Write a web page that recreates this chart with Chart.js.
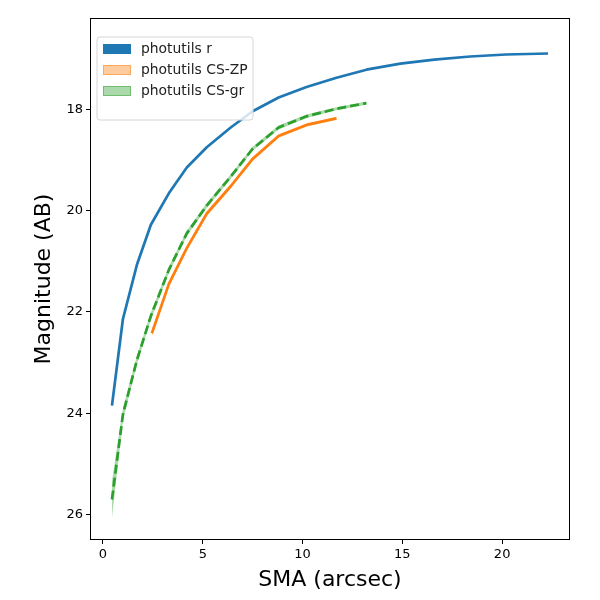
<!DOCTYPE html>
<html>
<head>
<meta charset="utf-8">
<script src="https://cdn.jsdelivr.net/npm/chart.js@4.4.1/dist/chart.umd.min.js"></script>
<style>
  html, body { margin: 0; padding: 0; background: #fff; }
  #wrap { width: 600px; height: 600px; }
</style>
</head>
<body>
<div id="wrap"><canvas id="c" width="600" height="600"></canvas></div>
<script>
// ---- data ----
const smaR   = [0.45, 1.0, 1.7, 2.4, 3.3, 4.2, 5.2, 6.4, 7.5, 8.8, 10.2, 11.7, 13.2, 14.9, 16.6, 18.4, 20.2, 22.3];
const magR   = [23.85, 22.14, 21.07, 20.28, 19.66, 19.15, 18.75, 18.36, 18.04, 17.77, 17.56, 17.38, 17.22, 17.10, 17.02, 16.96, 16.92, 16.90];

const smaZP  = [2.45, 3.3, 4.2, 5.2, 6.4, 7.5, 8.8, 10.2, 11.7];
const magZP  = [22.42, 21.45, 20.74, 20.06, 19.52, 18.98, 18.53, 18.31, 18.18];
const errZP  = [0.07, 0.06, 0.05, 0.05, 0.04, 0.04, 0.035, 0.03, 0.03];

const smaGR  = [0.45, 1.0, 1.7, 2.4, 3.3, 4.2, 5.2, 6.4, 7.5, 8.8, 10.2, 11.7, 13.2];
const magGR  = [25.70, 24.02, 22.95, 22.08, 21.17, 20.45, 19.90, 19.33, 18.78, 18.36, 18.14, 17.99, 17.88];
const errGR  = [0.36, 0.12, 0.08, 0.07, 0.06, 0.05, 0.05, 0.04, 0.04, 0.04, 0.035, 0.03, 0.03];

const xTicks = [0, 5, 10, 15, 20];
const yTicks = [18, 20, 22, 24, 26];
const labels = ['photutils r', 'photutils CS-ZP', 'photutils CS-gr'];

// ---- helpers ----
const pts = (xs, ys) => xs.map((x, i) => ({x: x, y: ys[i]}));
const ptsOff = (xs, ys, es, s) => xs.map((x, i) => ({x: x, y: ys[i] + s * es[i]}));

const BLUE = '#1f77b4', ORANGE = '#ff7f0e', GREEN = '#2ca02c';
const ORANGE_A = 'rgba(255,127,14,0.4)', GREEN_A = 'rgba(44,160,44,0.4)';

const datasets = [
  // bands (drawn underneath)
  {data: ptsOff(smaZP, magZP, errZP, -1), borderWidth: 0, pointRadius: 0, fill: false, order: 10, backgroundColor: ORANGE_A, borderColor: 'transparent'},
  {data: ptsOff(smaZP, magZP, errZP, 1), borderWidth: 0, pointRadius: 0, fill: '-1', order: 10, backgroundColor: ORANGE_A, borderColor: 'transparent'},
  {data: ptsOff(smaGR, magGR, errGR, -1), borderWidth: 0, pointRadius: 0, fill: false, order: 10, backgroundColor: GREEN_A, borderColor: 'transparent'},
  {data: ptsOff(smaGR, magGR, errGR, 1), borderWidth: 0, pointRadius: 0, fill: '-1', order: 10, backgroundColor: GREEN_A, borderColor: 'transparent'},
  // lines
  {label: labels[0], data: pts(smaR, magR), borderColor: BLUE, borderWidth: 2.7, pointRadius: 0, fill: false, order: 3},
  {label: labels[1], data: pts(smaZP, magZP), borderColor: ORANGE, borderWidth: 2.7, pointRadius: 0, fill: false, order: 2},
  {label: labels[2], data: pts(smaGR, magGR), borderColor: GREEN, borderWidth: 2.7, borderDash: [9, 4], pointRadius: 0, fill: false, order: 1}
];

const frameAndLegend = {
  id: 'frameAndLegend',
  afterDraw(chart) {
    const ctx = chart.ctx, a = chart.chartArea;
    ctx.save();
    ctx.strokeStyle = '#000';
    ctx.lineWidth = 1;
    ctx.strokeRect(Math.round(a.left) + 0.5, Math.round(a.top) + 0.5, Math.round(a.right - a.left) - 1, Math.round(a.bottom - a.top) - 1);

    // legend box (matplotlib style, upper left)
    const lx = a.left + 7, ly = a.top + 19, lw = 156, lh = 83, r = 3;
    ctx.beginPath();
    ctx.moveTo(lx + r, ly);
    ctx.lineTo(lx + lw - r, ly); ctx.quadraticCurveTo(lx + lw, ly, lx + lw, ly + r);
    ctx.lineTo(lx + lw, ly + lh - r); ctx.quadraticCurveTo(lx + lw, ly + lh, lx + lw - r, ly + lh);
    ctx.lineTo(lx + r, ly + lh); ctx.quadraticCurveTo(lx, ly + lh, lx, ly + lh - r);
    ctx.lineTo(lx, ly + r); ctx.quadraticCurveTo(lx, ly, lx + r, ly);
    ctx.closePath();
    ctx.fillStyle = 'rgba(255,255,255,0.8)';
    ctx.fill();
    ctx.strokeStyle = '#d6d6d6';
    ctx.stroke();

    const fills = [BLUE, ORANGE_A, GREEN_A];
    const edges = [BLUE, 'rgba(255,127,14,0.45)', 'rgba(44,160,44,0.45)'];
    ctx.font = '13.9px "DejaVu Sans"';
    ctx.textBaseline = 'middle';
    ctx.textAlign = 'left';
    for (let i = 0; i < labels.length; i++) {
      const cy = ly + 12 + i * 21;
      ctx.fillStyle = fills[i];
      ctx.fillRect(lx + 6, cy - 5, 28, 10);
      ctx.strokeStyle = edges[i];
      ctx.strokeRect(lx + 6.5, cy - 4.5, 27, 9);
      ctx.fillStyle = '#222';
      ctx.fillText(labels[i], lx + 44, cy + 0.5);
    }
    ctx.restore();
  }
};

new Chart(document.getElementById('c'), {
  type: 'line',
  data: {datasets: datasets},
  options: {
    responsive: false,
    animation: false,
    devicePixelRatio: 1,
    layout: {padding: {left: 0, top: 18, right: 30, bottom: 0}},
    plugins: {legend: {display: false}, tooltip: {enabled: false}, filler: {propagate: false}},
    elements: {line: {tension: 0, borderCapStyle: 'butt', borderJoinStyle: 'round'}},
    scales: {
      x: {
        type: 'linear',
        min: -0.65, max: 23.4,
        afterBuildTicks: s => { s.ticks = xTicks.map(v => ({value: v})); },
        afterFit: s => { s.height = 60; },
        grid: {display: true, drawOnChartArea: false, drawTicks: true, tickLength: 4, color: '#000'},
        border: {display: false},
        ticks: {color: '#000', padding: 3, font: {family: 'DejaVu Sans', size: 13}, maxRotation: 0},
        title: {display: true, text: 'SMA (arcsec)', color: '#000', font: {family: 'DejaVu Sans', size: 22}, padding: {top: 0, bottom: 7}}
      },
      y: {
        type: 'linear',
        reverse: true,
        min: 16.2, max: 26.5,
        afterBuildTicks: s => { s.ticks = yTicks.map(v => ({value: v})); },
        afterFit: s => { s.width = 90; },
        grid: {display: true, drawOnChartArea: false, drawTicks: true, tickLength: 4, color: '#000'},
        border: {display: false},
        ticks: {color: '#000', padding: 3, font: {family: 'DejaVu Sans', size: 13}},
        title: {display: true, text: 'Magnitude (AB)', color: '#000', font: {family: 'DejaVu Sans', size: 22}, padding: {top: 31, bottom: 0}}
      }
    }
  },
  plugins: [frameAndLegend]
});
</script>
</body>
</html>
